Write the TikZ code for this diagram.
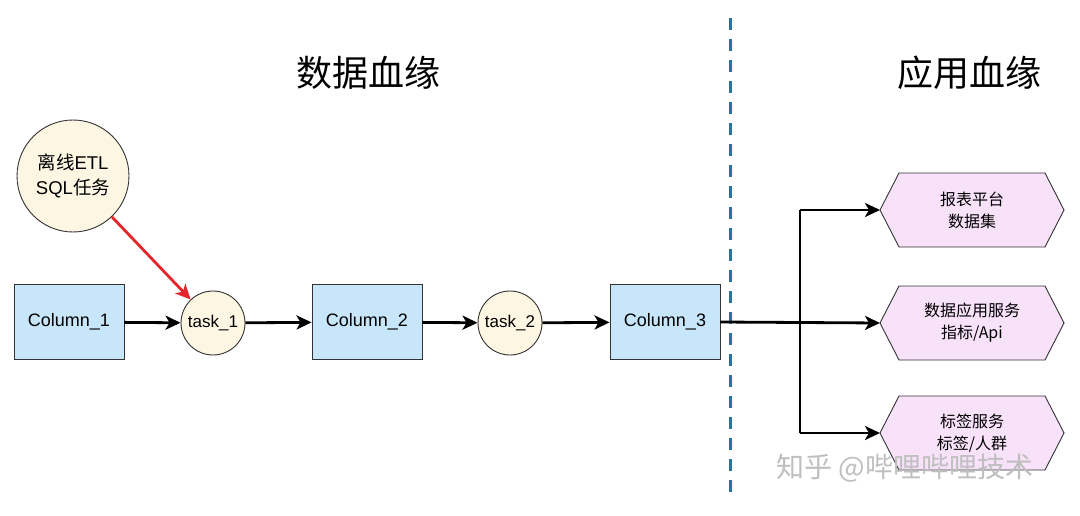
\documentclass[tikz,border=0pt]{standalone}
\usepackage{fontspec}
\setmainfont{Liberation Sans}
\newfontfamily\cjk{Noto Sans CJK SC}
\usetikzlibrary{arrows.meta,shapes.geometric}
\definecolor{boxblue}{HTML}{C8E6FA}
\definecolor{cream}{HTML}{FDF6E3}
\definecolor{pinkhex}{HTML}{F8E2FA}
\definecolor{dashblue}{HTML}{2A73A0}
\definecolor{redarrow}{HTML}{E3262B}
\tikzset{
  colbox/.style={draw=black!80, line width=0.9pt, fill=boxblue, minimum width=110pt, minimum height=75pt, font=\fontsize{18}{21}\selectfont, inner sep=0pt},
  taskcirc/.style={circle, draw=black!80, line width=0.9pt, fill=cream, minimum size=64pt, font=\fontsize{17}{20}\selectfont, inner sep=0pt},
  hexnode/.style={draw=black!80, line width=0.9pt, fill=pinkhex},
  flow/.style={line width=2.8pt, -{Stealth[length=15pt,width=14pt,inset=4pt]}},
  title/.style={font=\cjk\fontsize{36}{40}\selectfont}
}
\begin{document}
\begin{tikzpicture}[x=1pt,y=-1pt]
\useasboundingbox (0,0) rectangle (1080,516);
\fill[white] (0,0) rectangle (1080,516);

% titles
\node[title] (t1) at (368,73) {数据血缘};
\node[title] (t2) at (969,73) {应用血缘};

% dashed separator
\coordinate (d1) at (730,18);
\coordinate (d2) at (730,500);
\draw[dashblue, line width=3pt, dash pattern=on 12pt off 9pt] (d1) -- (d2);

% nodes
\node[circle, draw=black!80, line width=0.9pt, fill=cream, minimum size=112pt, align=center, font=\fontsize{18.5}{25}\selectfont, inner sep=0pt] (etl) at (73,176) {{\cjk 离线}ETL\\SQL{\cjk 任务}};
\node[colbox] (c1) at (69,322) {Column\_1};
\node[taskcirc] (k1) at (213,323) {task\_1};
\node[colbox] (c2) at (367,322) {Column\_2};
\node[taskcirc] (k2) at (510,323) {task\_2};
\node[colbox] (c3) at (665,322) {Column\_3};

% hexagons
\newcommand{\hexagon}[4]{%
  \draw[hexnode] (#1-92,#2) -- (#1-73,#2-37) -- (#1+73,#2-37) -- (#1+92,#2) -- (#1+73,#2+37) -- (#1-73,#2+37) -- cycle;
  \node[font=\cjk\fontsize{16}{22}\selectfont, align=center] (#3) at (#1,#2) {#4};
  \coordinate (#3w) at (#1-92,#2);
}
\hexagon{972}{210}{h1}{报表平台\\数据集}
\hexagon{972}{323}{h2}{数据应用服务\\指标/Api}
\hexagon{972}{433}{h3}{标签服务\\标签/人群}

% connectors
\draw[flow] (c1) -- (k1);
\draw[flow] (k1) -- (c2);
\draw[flow] (c2) -- (k2);
\draw[flow] (k2) -- (c3);
\draw[flow, redarrow] (etl) -- (k1);

\coordinate (b1) at (800,210);
\coordinate (b3) at (800,433);
\draw[line width=2.8pt] (b1) -- (b3);
\draw[flow] (c3.east) -- (h2w);
\draw[flow] (b1) -- (h1w);
\draw[flow] (b3) -- (h3w);

% watermark text
\node[font=\cjk\fontsize{28}{32}\selectfont, text=black!25] (wm) at (905,468) {知乎 @哔哩哔哩技术};
\end{tikzpicture}
\end{document}
